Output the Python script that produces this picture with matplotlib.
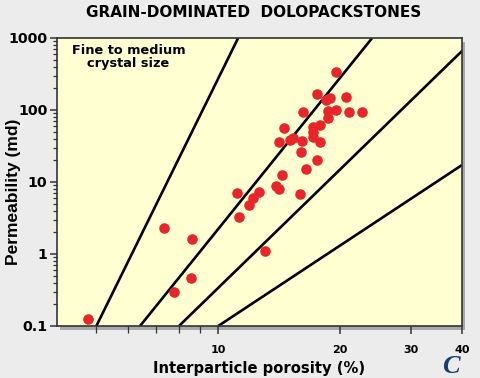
import matplotlib
matplotlib.use("Agg")
import matplotlib.pyplot as plt
from matplotlib.patches import Rectangle
import numpy as np

plt.rcParams['font.family'] = ['DejaVu Sans']

# interparticle porosity (%) and permeability (md)
porosity = [4.77, 7.35, 8.61, 8.57, 7.78, 11.25, 11.9, 12.2, 12.6, 11.1,
            13.05, 13.9, 14.1, 14.4, 15.9, 16.5, 17.5, 16.0, 14.1, 15.0,
            15.3, 16.1, 17.1, 17.1, 17.8, 14.5, 17.1, 17.8, 16.2, 18.7,
            18.7, 19.5, 21.0, 22.6, 18.5, 17.5, 20.7, 19.5, 18.9]
permeability = [0.125, 2.3, 1.62, 0.46, 0.30, 3.27, 4.8, 6.0, 7.3, 7.0,
                1.10, 8.8, 8.0, 12.5, 6.8, 15.2, 20.2, 26.1, 36, 38.3,
                40.8, 37.1, 42.2, 49.5, 36, 56, 58, 62, 94, 77,
                97, 100, 94, 94, 138, 167, 152, 337, 147]

# boundary lines: (porosity pair, permeability pair)
boundaries = [
    ([5.0, 11.2], [0.1, 1000]),
    ([6.41, 24.0], [0.1, 1000]),
    ([8.0, 40.0], [0.1, 660]),
    ([10.0, 40.0], [0.1, 17.2]),
]

xticks = [10, 20, 30, 40]
xminor = [5, 6, 7, 8, 9]
yticks = [0.1, 1, 10, 100, 1000]
ylabels = ['0.1', '1', '10', '100', '1000']

fig = plt.figure(figsize=(4.8, 3.78), dpi=100, facecolor='#ececec')
ax = fig.add_axes([0.119, 0.1376, 0.8435, 0.7619])
ax.set_facecolor('#ffffd2')

# drop shadow behind the plot area
shadow = Rectangle((0.119 + 0.006, 0.1376 - 0.010), 0.8435, 0.7619,
                   transform=fig.transFigure, facecolor='#a8a8a8',
                   edgecolor='none', zorder=-1)
fig.patches.append(shadow)

ax.set_xscale('log')
ax.set_yscale('log')
ax.set_xlim(4, 40)
ax.set_ylim(0.1, 1000)

for xs, ys in boundaries:
    ax.plot(xs, ys, color='black', lw=1.9, solid_capstyle='butt', zorder=2)

ax.plot(porosity, permeability, 'o', color='#e8262a', ms=7.6,
        mec='none', zorder=3, clip_on=False)

ax.xaxis.set_major_locator(matplotlib.ticker.FixedLocator(xticks))
ax.xaxis.set_major_formatter(matplotlib.ticker.FixedFormatter([str(t) for t in xticks]))
ax.xaxis.set_minor_locator(matplotlib.ticker.FixedLocator(xminor))
ax.xaxis.set_minor_formatter(matplotlib.ticker.NullFormatter())
ax.yaxis.set_major_locator(matplotlib.ticker.FixedLocator(yticks))
ax.yaxis.set_major_formatter(matplotlib.ticker.FixedFormatter(ylabels))
ax.yaxis.set_minor_locator(matplotlib.ticker.LogLocator(base=10, subs=np.arange(2, 10)))
ax.yaxis.set_minor_formatter(matplotlib.ticker.NullFormatter())

ax.tick_params(which='major', length=5, width=1.1, color='#333333')
ax.tick_params(which='minor', length=3, width=0.9, color='#333333')
ax.tick_params(axis='x', which='major', length=6, labelsize=8, pad=8)
ax.tick_params(axis='x', which='minor', length=5)
ax.tick_params(axis='y', which='major', labelsize=10.3, pad=2)
for lab in ax.get_xticklabels() + ax.get_yticklabels():
    lab.set_fontweight('bold')

for s in ax.spines.values():
    s.set_color('#333333')
    s.set_linewidth(1.2)

ax.set_xlabel('Interparticle porosity (%)', fontsize=10.6, fontweight='bold', labelpad=4)
ax.set_ylabel('Permeability (md)', fontsize=12.5, fontweight='bold',
              family='Liberation Sans')
ax.yaxis.set_label_coords(-0.088, 0.467)

ax.text(0.176, 0.98, 'Fine to medium\ncrystal size', transform=ax.transAxes,
        ha='center', va='top', fontsize=9.3, fontweight='bold', linespacing=1.05)

fig.text(0.529, 0.968, 'GRAIN-DOMINATED  DOLOPACKSTONES', ha='center', va='center',
         fontsize=11, fontweight='bold')
fig.text(0.94, 0.012, 'C', ha='center', va='baseline', fontsize=19,
         fontweight='bold', fontstyle='italic', family='Liberation Serif',
         color='#1c3c6e')

fig.savefig('out.png', dpi=100, facecolor=fig.get_facecolor())
